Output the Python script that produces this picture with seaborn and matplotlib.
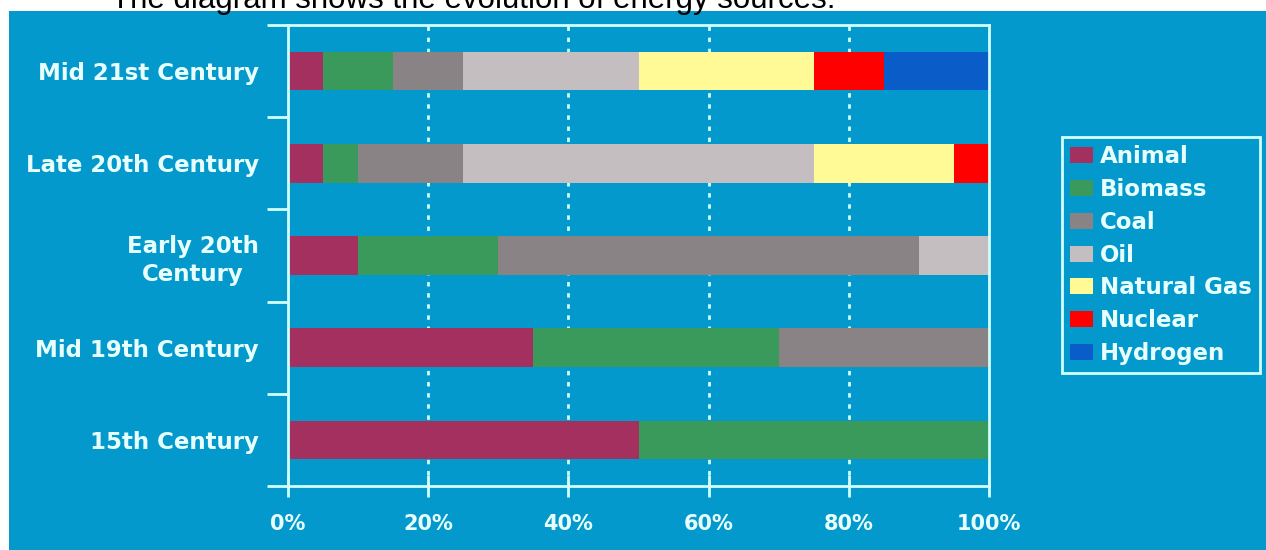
import numpy as np
import pandas as pd
import matplotlib
matplotlib.use("Agg")
import matplotlib.pyplot as plt
import seaborn as sns
from matplotlib.patches import Rectangle, Patch
from matplotlib.font_manager import FontProperties

# ---- data ----
periods = ["Mid 21st Century", "Late 20th Century", "Early 20th\nCentury",
           "Mid 19th Century", "15th Century"]
sources = ["Animal", "Biomass", "Coal", "Oil", "Natural Gas", "Nuclear", "Hydrogen"]
animal = [5, 5, 10, 35, 50]
biomass = [10, 5, 20, 35, 50]
coal = [10, 15, 60, 30, 0]
oil = [25, 50, 10, 0, 0]
natural_gas = [25, 20, 0, 0, 0]
nuclear = [10, 5, 0, 0, 0]
hydrogen = [15, 0, 0, 0, 0]
x_ticks = [0, 20, 40, 60, 80, 100]
x_tick_labels = ["0%", "20%", "40%", "60%", "80%", "100%"]
title = "The diagram shows the evolution of energy sources."

series = [animal, biomass, coal, oil, natural_gas, nuclear, hydrogen]
colors = ["#A3305F", "#3A9A5C", "#8A8385", "#C4BEC0", "#FFFA96", "#FF0000", "#0A5CC8"]

BLUE = "#0399CC"
LINE = "#D2FFFF"
TEXT = "#E8FFFF"

sns.set_style("white")
plt.rcParams["font.family"] = ["DejaVu Sans"]

W, H = 1266, 550
fig = plt.figure(figsize=(W / 100, H / 100), dpi=100)
fig.patch.set_facecolor("white")
fig.patches.append(Rectangle((9 / W, 0), 1 - 9 / W, 1 - 11 / H, transform=fig.transFigure,
                             facecolor=BLUE, edgecolor="none", zorder=-5))

ax = fig.add_axes([288 / W, 1 - 486 / H, 701 / W, 461 / H])
ax.set_zorder(2)
ax.set_facecolor(BLUE)

# long-form data with cumulative sums
rows = []
for p_i, p in enumerate(periods):
    cum = 0
    for s_i, s in enumerate(sources):
        cum += series[s_i][p_i]
        rows.append({"period": p, "source": s, "value": series[s_i][p_i], "cum": cum})
df = pd.DataFrame(rows)

for s_i in reversed(range(len(sources))):
    sub = df[df["source"] == sources[s_i]]
    sns.barplot(data=sub, x="cum", y="period", order=periods, orient="h",
                color=colors[s_i], saturation=1, width=0.42, linewidth=0,
                errorbar=None, ax=ax, zorder=2)

ax.set_xlim(0, 100)
ax.set_ylim(4.5, -0.5)
ax.set_xlabel("")
ax.set_ylabel("")

for v in x_ticks[1:-1]:
    ax.axvline(v, color=LINE, ls=(0, (1.6, 2.4)), lw=2, zorder=1)

for sp in ax.spines.values():
    sp.set_visible(True)
    sp.set_color(LINE)
    sp.set_linewidth(2)

ax.set_xticks(x_ticks)
ax.set_xticklabels(x_tick_labels)
ax.tick_params(axis="x", direction="inout", length=16, width=2, color=LINE,
               pad=12, labelsize=15, labelcolor=TEXT, bottom=True)
ax.set_yticks(range(len(periods)))
ax.set_yticklabels(periods, multialignment="center", linespacing=1.3)
ax.set_yticks(np.arange(-0.5, len(periods), 1), minor=True)
ax.tick_params(axis="y", which="major", length=0, pad=21, labelsize=16.5, labelcolor=TEXT, left=True)
ax.tick_params(axis="y", which="minor", length=15, width=2, color=LINE, direction="out", left=True)
for lab in ax.get_xticklabels() + ax.get_yticklabels():
    lab.set_fontweight("bold")

fig.text(111 / W, 1 - 8 / H, title, fontsize=22.5, family="Liberation Sans",
         va="baseline", ha="left", color="black")

handles = [Patch(facecolor=c, edgecolor="none", label=s) for c, s in zip(colors, sources)]
leg = fig.legend(handles=handles, loc="upper left", bbox_to_anchor=(1062 / W, 1 - 137 / H),
                 frameon=True, fancybox=False, facecolor=BLUE, edgecolor=LINE, framealpha=1,
                 prop=FontProperties(family="DejaVu Sans", weight="bold", size=16.5),
                 labelcolor=TEXT, handlelength=1.0, handleheight=0.7, handletextpad=0.3,
                 labelspacing=0.43, borderpad=0.35, borderaxespad=0)
leg.get_frame().set_linewidth(2)

fig.savefig("out.png", dpi=100, facecolor="white")
